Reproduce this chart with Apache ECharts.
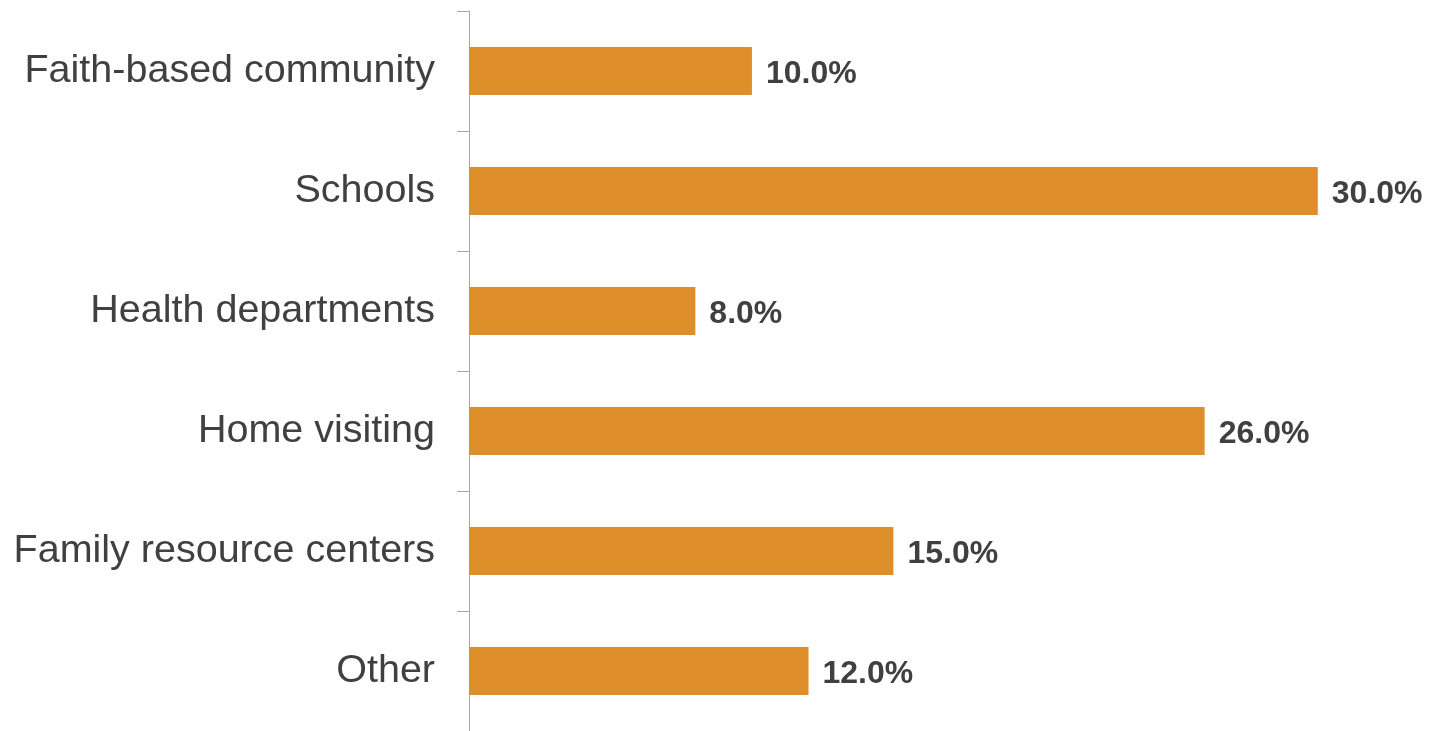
<!DOCTYPE html>
<html>
<head>
<meta charset="utf-8">
<script src="https://cdn.jsdelivr.net/npm/echarts@6/dist/echarts.min.js"></script>
<style>
html,body{margin:0;padding:0;background:#fff;}
#c{width:1435px;height:731px;}
</style>
</head>
<body>
<div id="c"></div>
<script>
const categories = ["Faith-based community", "Schools", "Health departments", "Home visiting", "Family resource centers", "Other"];
const values = [10.0, 30.0, 8.0, 26.0, 15.0, 12.0];

const chart = echarts.init(document.getElementById('c'));
chart.setOption({
  animation: false,
  grid: { left: 469, top: 11, width: 962, height: 720, containLabel: false },
  xAxis: {
    type: 'value', min: 0, max: 34, show: false,
    splitLine: { show: false }
  },
  yAxis: {
    type: 'category',
    data: categories,
    inverse: true,
    axisLine: { show: true, lineStyle: { color: '#A6A6A6', width: 1 } },
    axisTick: { show: true, length: 12, lineStyle: { color: '#A6A6A6', width: 1 } },
    axisLabel: {
      margin: 34,
      color: '#404040',
      fontSize: 39.5,
      fontFamily: 'Liberation Sans, Arial, sans-serif'
    }
  },
  series: [{
    type: 'bar',
    data: values,
    barWidth: 48,
    itemStyle: { color: '#DF8F29' },
    label: {
      show: true,
      position: 'right',
      distance: 14,
      offset: [0, 3],
      color: '#404040',
      fontSize: 32,
      fontWeight: 'bold',
      fontFamily: 'Liberation Sans, Arial, sans-serif',
      formatter: p => p.value.toFixed(1) + '%'
    }
  }]
});
</script>
</body>
</html>
